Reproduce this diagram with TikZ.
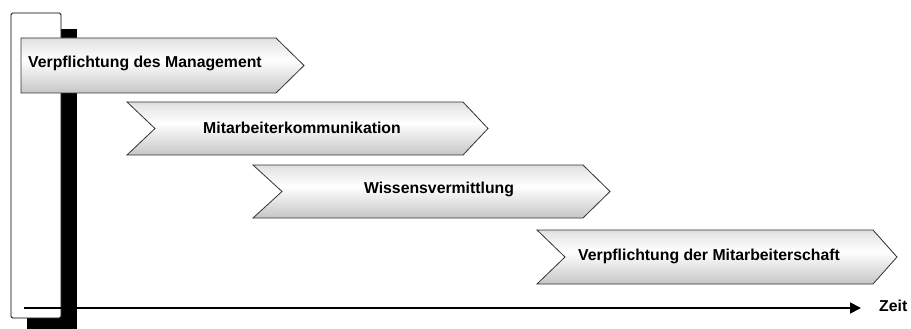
\documentclass[tikz,border=0pt]{standalone}
\usepackage{fontspec}
\setmainfont{Liberation Sans}
\usetikzlibrary{arrows.meta}
\pgfdeclareverticalshading{chev}{100bp}{color(0bp)=(black!48); color(12bp)=(black!32); color(55bp)=(white); color(72bp)=(black!10); color(100bp)=(black!45)}
\tikzset{
  chevbox/.style={shading=chev, draw=black!80, line width=0.8pt, line join=miter},
  lbl/.style={font=\fontsize{15.8}{18}\selectfont\bfseries, inner sep=0pt},
}
\begin{document}
\begin{tikzpicture}[x=1pt,y=-1pt]
\useasboundingbox (0,0) rectangle (911,329);
\begin{scope}
\clip (0,0) rectangle (911,329);
% frame with shadow
\fill[black] (27,29) rectangle (77,340);
\draw[fill=white, line width=0.9pt, rounded corners=1.5pt] (11,13) rectangle (61,318);
\end{scope}
% axis
\coordinate (ax0) at (24,308);
\coordinate (ax1) at (861,308);
\draw[line width=1.8pt, -{Triangle[length=11pt,width=11pt]}] (ax0) -- (ax1);
\node[lbl, anchor=base west] (zeit) at (879,311) {Zeit};
% chevron 1
\path[chevbox] (21,38) -- (276,38) -- (304,65.5) -- (276,93) -- (21,93) -- cycle;
\node[lbl, anchor=base west] (c1) at (28,68) {Verpflichtung des Management};
% chevron 2
\path[chevbox] (127,102) -- (463,102) -- (488,128.5) -- (463,155) -- (127,155) -- (155,128.5) -- cycle;
\node[lbl, anchor=base] (c2) at (302,133) {Mitarbeiterkommunikation};
% chevron 3
\path[chevbox] (253,165) -- (583,165) -- (610,191.5) -- (583,218) -- (253,218) -- (282,191.5) -- cycle;
\node[lbl, anchor=base] (c3) at (439,193) {Wissensvermittlung};
% chevron 4
\path[chevbox] (537,230) -- (873,230) -- (897,257) -- (873,284) -- (537,284) -- (565,257) -- cycle;
\node[lbl, anchor=base west] (c4) at (578,260) {Verpflichtung der Mitarbeiterschaft};
\end{tikzpicture}
\end{document}
